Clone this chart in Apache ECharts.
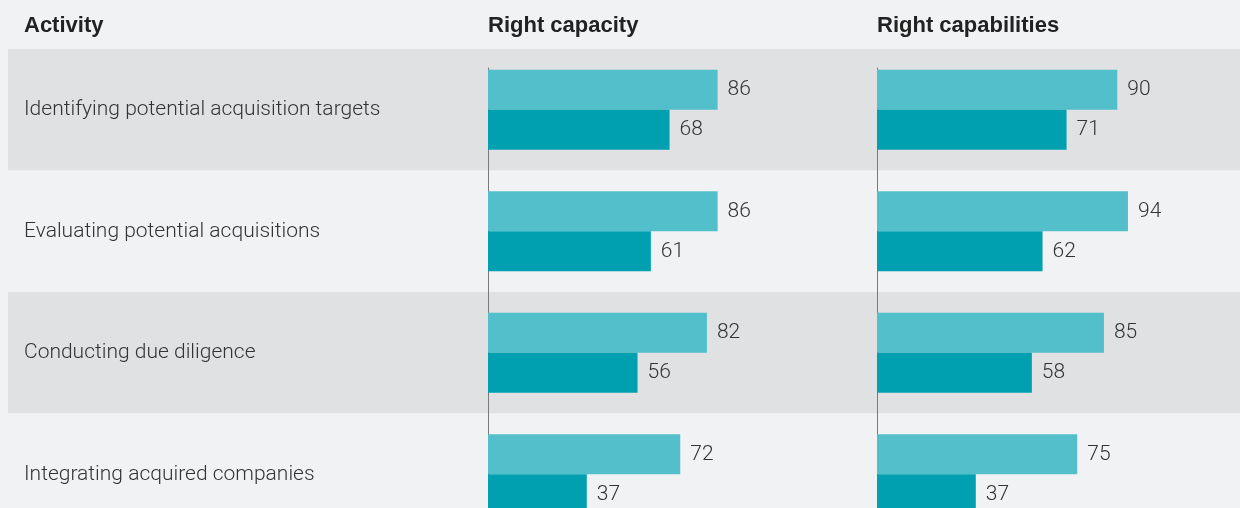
<!DOCTYPE html>
<html>
<head>
<meta charset="utf-8">
<script src="https://cdn.jsdelivr.net/npm/echarts@6/dist/echarts.min.js"></script>
<style>
html,body{margin:0;padding:0;background:#f1f2f4;}
#chart{width:1240px;height:508px;}
</style>
</head>
<body>
<div id="chart"></div>
<script>
const headers = ['Activity', 'Right capacity', 'Right capabilities'];
const categories = [
  'Identifying potential acquisition targets',
  'Evaluating potential acquisitions',
  'Conducting due diligence',
  'Integrating acquired companies'
];
const capacityTop = [86, 86, 82, 72];
const capacityBottom = [68, 61, 56, 37];
const capabilitiesTop = [90, 94, 85, 75];
const capabilitiesBottom = [71, 62, 58, 37];

const LIGHT = '#52bfcb', DARK = '#00a0b0';
const TEXT = '#333333';
const FONT = 'Roboto, "Liberation Sans", sans-serif';

const chart = echarts.init(document.getElementById('chart'), null, {renderer: 'canvas'});

function barSeries(idx, data, color) {
  return {
    type: 'bar', xAxisIndex: idx, yAxisIndex: idx, data: data,
    barWidth: 40, barGap: '0%', silent: true,
    itemStyle: {color: color},
    label: {show: true, position: 'right', distance: 10, color: TEXT,
      fontFamily: FONT, fontWeight: 300, fontSize: 21}
  };
}

const rowTop = 49, rowH = 486;
const G = {outerBoundsMode: 'none', containLabel: false};

chart.setOption({
  backgroundColor: '#f1f2f4',
  animation: false,
  title: [
    {text: headers[0], left: 24, top: 15},
    {text: headers[1], left: 488, top: 15},
    {text: headers[2], left: 877, top: 15}
  ].map(t => Object.assign(t, {padding: 0, textStyle: {fontFamily: '"Liberation Sans", Arial, sans-serif', fontWeight: 'bold', fontSize: 22, color: '#222222'}})),
  grid: [
    Object.assign({left: 8, right: 0, top: rowTop, height: rowH}, G),
    Object.assign({left: 488, top: rowTop, width: 267, height: rowH}, G),
    Object.assign({left: 877, top: rowTop, width: 267, height: rowH}, G),
    Object.assign({left: 488, top: 68, width: 267, height: 460}, G),
    Object.assign({left: 877, top: 68, width: 267, height: 460}, G)
  ],
  xAxis: [0,1,2,3,4].map(i => ({gridIndex: i, type: 'value', min: 0, max: 100, show: false})),
  yAxis: [
    {gridIndex: 0, type: 'category', data: categories, inverse: true,
      axisLine: {show: false}, axisTick: {show: false},
      axisLabel: {inside: true, margin: 16, color: TEXT, fontFamily: FONT, fontWeight: 300, fontSize: 21},
      splitLine: {show: false},
      splitArea: {show: true, areaStyle: {color: ['#e0e1e3', '#f1f2f4']}}},
    {gridIndex: 1, type: 'category', data: categories, inverse: true, show: false},
    {gridIndex: 2, type: 'category', data: categories, inverse: true, show: false},
    {gridIndex: 3, type: 'value', axisLine: {show: true, lineStyle: {color: '#7a7a7a', width: 1}},
      axisTick: {show: false}, axisLabel: {show: false}, splitLine: {show: false}},
    {gridIndex: 4, type: 'value', axisLine: {show: true, lineStyle: {color: '#7a7a7a', width: 1}},
      axisTick: {show: false}, axisLabel: {show: false}, splitLine: {show: false}}
  ],
  series: [
    barSeries(1, capacityTop, LIGHT),
    barSeries(1, capacityBottom, DARK),
    barSeries(2, capabilitiesTop, LIGHT),
    barSeries(2, capabilitiesBottom, DARK)
  ]
});
</script>
</body>
</html>
